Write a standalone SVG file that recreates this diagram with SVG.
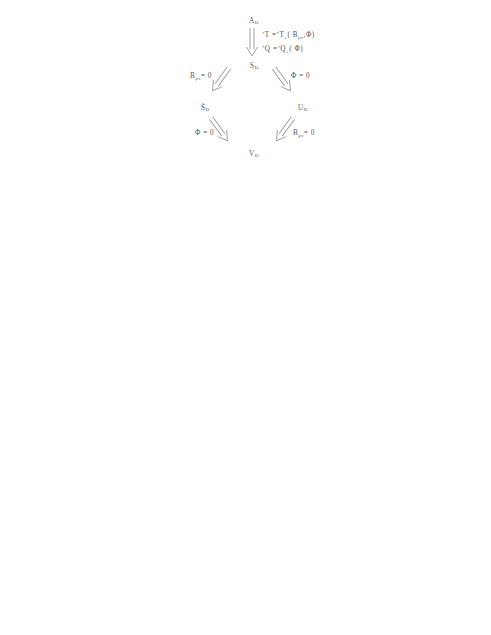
<svg xmlns="http://www.w3.org/2000/svg" width="491" height="635" viewBox="0 0 491 635">
<style>
text{font-family:"Liberation Serif","DejaVu Serif",serif;font-size:7.2px;fill:#555;letter-spacing:0.55px}
.s{font-size:5px;letter-spacing:0.3px}
.arr{fill:none;stroke:#a0a0a0;stroke-width:1}
</style>
<defs>
<g id="dar">
<path class="arr" d="M-2,0 V21 M2,0 V21 M-5.5,19 L0,28 L5.5,19"/>
</g>
</defs>
<rect width="491" height="635" fill="#fff"/>
<g id="connectors">
<use href="#dar" transform="translate(252,28)"/>
<use href="#dar" transform="translate(229,68) rotate(36)"/>
<use href="#dar" transform="translate(274,68) rotate(-36)"/>
<use href="#dar" transform="translate(211,118) rotate(-36)"/>
<use href="#dar" transform="translate(293,118) rotate(36)"/>
</g>
<g id="A"><text x="249" y="23">A<tspan class="s" dy="1.2">D</tspan></text></g>
<g id="S"><text x="250" y="68">S<tspan class="s" dy="1.2">D</tspan></text></g>
<g id="St"><text x="201" y="110">S&#x303;<tspan class="s" dy="1.2">D</tspan></text></g>
<g id="U"><text x="298" y="110">U<tspan class="s" dy="1.2">D</tspan></text></g>
<g id="V"><text x="249" y="156">V<tspan class="s" dy="1.2">D</tspan></text></g>
<g id="labels">
<text x="262" y="37"><tspan class="s" dy="-2">*</tspan><tspan dy="2">T =</tspan><tspan class="s" dy="-2">*</tspan><tspan dy="2">T</tspan><tspan class="s" dy="1.5">±</tspan><tspan dy="-1.5">( B</tspan><tspan class="s" dy="1.5">μν</tspan><tspan dy="-1.5">,Φ)</tspan></text>
<text x="262" y="51"><tspan class="s" dy="-2">*</tspan><tspan dy="2">Q =</tspan><tspan class="s" dy="-2">*</tspan><tspan dy="2">Q</tspan><tspan class="s" dy="1.5">±</tspan><tspan dy="-1.5">( Φ)</tspan></text>
<text x="190" y="78">B<tspan class="s" dy="1.5">μν</tspan><tspan dy="-1.5">= 0</tspan></text>
<text x="291" y="78">Φ = 0</text>
<text x="195" y="135">Φ = 0</text>
<text x="293" y="135">B<tspan class="s" dy="1.5">μν</tspan><tspan dy="-1.5">= 0</tspan></text>
</g>
</svg>
